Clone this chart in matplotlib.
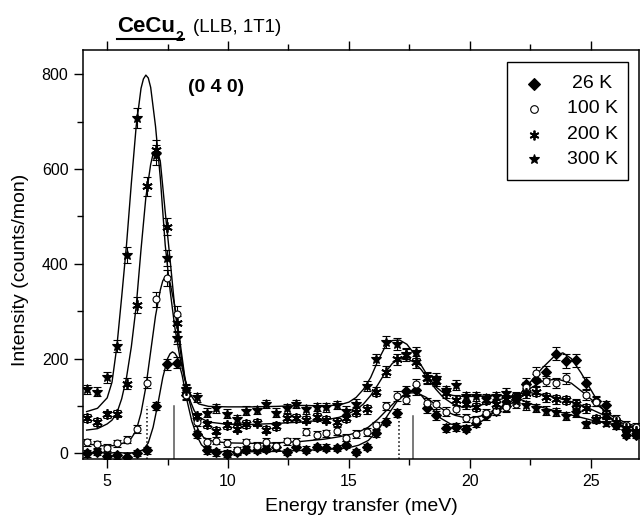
import numpy as np
import matplotlib
matplotlib.use("Agg")
import matplotlib.pyplot as plt
from matplotlib.patches import Rectangle
from matplotlib.lines import Line2D

plt.rcParams['font.family'] = ['Liberation Sans', 'DejaVu Sans']

# energy transfer of the measured points (meV)
energy = [4.15, 4.56, 4.98, 5.39, 5.80, 6.22, 6.63, 7.04, 7.46, 7.87,
          8.28, 8.70, 9.11, 9.52, 9.94, 10.35, 10.76, 11.18, 11.59, 12.00,
          12.42, 12.83, 13.24, 13.66, 14.07, 14.49, 14.90, 15.31, 15.73, 16.14,
          16.55, 16.97, 17.38, 17.79, 18.21, 18.62, 19.03, 19.45, 19.86, 20.27,
          20.69, 21.10, 21.51, 21.93, 22.34, 22.75, 23.17, 23.58, 23.99, 24.41,
          24.82, 25.23, 25.65, 26.06, 26.47, 26.89]

# intensities (counts/mon)
i_26K = [0, 3, -6, -4, -7, 1, 6, 100, 188, 191,
         123, 40, 6, 2, -1, 3, 7, 7, 10, 14,
         3, 13, 8, 13, 12, 11, 18, 3, 13, 42,
         67, 85, 132, 133, 95, 80, 54, 56, 52, 63,
         80, 90, 99, 118, 147, 155, 172, 210, 195, 196,
         148, 110, 101, 60, 39, 39]
i_100K = [23, 19, 12, 21, 29, 51, 149, 325, 369, 295,
          124, 66, 24, 27, 22, 6, 23, 15, 24, 15,
          25, 24, 46, 39, 42, 47, 33, 41, 45, 59,
          100, 121, 113, 146, 106, 103, 88, 93, 74, 71,
          85, 90, 97, 105, 139, 170, 153, 148, 158, 102,
          123, 109, 83, 73, 60, 55]
i_200K = [75, 66, 82, 84, 147, 313, 563, 640, 478, 274,
          134, 78, 61, 48, 59, 52, 62, 65, 50, 58,
          74, 74, 71, 77, 71, 66, 75, 88, 93, 130,
          172, 198, 208, 193, 158, 152, 127, 112, 103, 98,
          112, 105, 114, 118, 127, 130, 118, 114, 112, 105,
          95, 72, 81, 67, 53, 48]
i_300K = [135, 130, 160, 226, 418, 707, np.nan, 630, 412, 244,
          136, 118, 86, 95, 84, 72, 90, 91, 104, 86,
          95, 104, 93, 98, 97, 102, 90, 105, 142, 198,
          235, 230, 210, 213, 160, 158, 133, 144, 120, 120,
          117, 121, 127, 110, 101, 96, 90, 87, 79, 85,
          61, 73, 65, 60, 47, 45]

# error bars (counts/mon)
e_26K = [7, 7, 7, 7, 7, 7, 7, 9, 12, 12,
         10, 7, 7, 7, 7, 7, 7, 7, 7, 7,
         7, 7, 7, 7, 7, 7, 7, 7, 7, 7,
         8, 9, 11, 11, 10, 9, 8, 8, 8, 8,
         9, 9, 10, 11, 12, 12, 13, 14, 14, 14,
         12, 10, 10, 8, 7, 7]
e_100K = [8, 8, 8, 8, 8, 8, 11, 16, 17, 16,
          10, 8, 8, 8, 8, 8, 8, 8, 8, 8,
          8, 8, 8, 8, 8, 8, 8, 8, 8, 8,
          9, 10, 10, 11, 10, 9, 9, 9, 8, 8,
          9, 9, 9, 10, 11, 12, 11, 11, 12, 10,
          10, 10, 9, 8, 8, 8]
e_200K = [8, 8, 8, 8, 11, 16, 20, 21, 18, 15,
          11, 8, 8, 8, 8, 8, 8, 8, 8, 8,
          8, 8, 8, 8, 8, 8, 8, 9, 9, 10,
          12, 12, 13, 12, 11, 11, 10, 10, 9, 9,
          9, 9, 9, 10, 10, 10, 9, 9, 9, 9,
          9, 8, 8, 8, 8, 7]
e_300K = [10, 10, 11, 13, 17, 21, np.nan, 21, 17, 13,
          10, 10, 9, 9, 9, 8, 9, 9, 9, 9,
          9, 9, 9, 9, 9, 9, 9, 9, 10, 12,
          13, 13, 12, 12, 11, 11, 10, 10, 9, 9,
          9, 9, 10, 9, 9, 9, 9, 9, 8, 8,
          8, 8, 8, 8, 7, 7]

# fitted curves
fit_x_26K = [4.15, 5.0, 6.0, 6.3, 6.5, 6.7, 6.9, 7.1, 7.3, 7.5, 7.6, 7.7, 7.8, 7.9,
             8.1, 8.3, 8.5, 8.7, 8.9, 9.1, 9.5, 10.5, 12.0, 13.0, 14.0, 14.6,
             15.0, 15.4, 15.8, 16.2, 16.6, 17.0, 17.4, 17.7, 18.0, 18.4, 18.8,
             19.2, 19.6, 20.0, 20.5, 21.0, 21.5, 22.0, 22.5, 23.0, 23.5, 23.85,
             24.2, 24.6, 25.0, 25.4, 25.8, 26.2, 26.6, 27.0]
fit_y_26K = [2, 1, 1, 3, 8, 22, 55, 105, 160, 200, 210, 214, 211, 203,
             165, 112, 68, 38, 18, 9, 4, 3, 4, 6, 8, 10,
             12, 17, 27, 48, 80, 110, 128, 132, 122, 97, 74,
             62, 57, 57, 68, 86, 102, 120, 150, 180, 205, 212,
             200, 170, 135, 100, 75, 58, 49, 42]
fit_x_100K = [4.15, 4.6, 5.0, 5.4, 5.8, 6.0, 6.2, 6.4, 6.6, 6.8, 7.0, 7.2, 7.3,
              7.4, 7.5, 7.6, 7.8, 8.0, 8.2, 8.4, 8.6, 8.8, 9.0, 9.4, 10.0, 11.0,
              12.0, 13.0, 14.0, 14.6, 15.0, 15.4, 15.8, 16.2, 16.6, 17.0, 17.4,
              17.8, 18.2, 18.6, 19.0, 19.4, 19.9, 20.4, 21.0, 21.5, 22.0, 22.5,
              23.0, 23.6, 24.2, 24.8, 25.4, 25.9, 26.5, 27.0]
fit_y_100K = [20, 17, 15, 17, 24, 32, 48, 85, 140, 215, 290, 345, 364,
              372, 370, 360, 310, 240, 165, 110, 70, 46, 33, 25, 22, 21,
              22, 25, 30, 35, 39, 45, 55, 72, 93, 113, 127,
              128, 118, 102, 89, 80, 74, 78, 86, 98, 115, 137,
              152, 157, 148, 124, 97, 78, 63, 56]
fit_x_200K = [4.15, 4.6, 5.0, 5.2, 5.4, 5.6, 5.8, 6.0, 6.2, 6.4, 6.6, 6.8, 6.9,
              7.0, 7.1, 7.2, 7.4, 7.6, 7.8, 8.0, 8.2, 8.4, 8.6, 8.8, 9.2, 10.0,
              11.0, 12.0, 13.0, 14.0, 14.6, 15.0, 15.3, 15.6, 15.9, 16.2, 16.5,
              16.8, 17.1, 17.4, 17.7, 18.0, 18.3, 18.6, 18.9, 19.3, 19.7, 20.2,
              20.8, 21.4, 22.0, 22.5, 23.0, 23.6, 24.2, 24.8, 25.4, 26.0, 26.5,
              27.0]
fit_y_200K = [49, 52, 62, 70, 85, 115, 160, 225, 310, 430, 540, 610, 632,
              640, 635, 615, 510, 410, 305, 225, 160, 115, 90, 76, 66, 61,
              61, 63, 66, 70, 76, 84, 92, 104, 122, 145, 170,
              190, 199, 200, 192, 176, 155, 135, 118, 104, 97, 99,
              106, 116, 125, 128, 124, 117, 109, 98, 84, 70, 60,
              53]
fit_x_300K = [4.15, 4.6, 5.0, 5.2, 5.4, 5.6, 5.8, 6.0, 6.2, 6.4, 6.5, 6.6, 6.7,
              6.8, 7.0, 7.2, 7.4, 7.6, 7.8, 8.0, 8.2, 8.4, 8.6, 8.8, 9.2, 10.0,
              11.0, 12.0, 13.0, 14.0, 14.6, 15.0, 15.3, 15.6, 15.9, 16.2, 16.5,
              16.8, 17.1, 17.4, 17.7, 18.0, 18.3, 18.6, 18.9, 19.3, 19.7, 20.2,
              21.0, 21.6, 22.0, 22.6, 23.2, 23.8, 24.5, 25.2, 26.0, 27.0]
fit_y_300K = [88, 95, 117, 150, 225, 330, 440, 570, 690, 770, 790, 798, 792,
              772, 690, 580, 440, 345, 265, 205, 158, 128, 112, 104, 99, 98,
              98, 99, 101, 100, 102, 108, 118, 135, 160, 195, 225,
              238, 239, 230, 210, 185, 160, 140, 128, 122, 120, 120,
              122, 121, 116, 103, 94, 86, 77, 68, 60, 52]

# calculated transition energies (dotted / solid markers)
trans_x = [6.63, 7.75, 17.07, 17.64]
trans_top = [100, 100, 78, 78]
trans_style = [':', '-', ':', '-']
trans_color = ['black', '#555555', 'black', '#555555']

labels = ['26 K', '100 K', '200 K', '300 K']
markers = ['D', 'o', (6, 2, 0), '*']
msizes = [5, 5, 7.5, 7.5]
mews = [0.8, 0.8, 1.3, 0.8]
mfcs = ['black', 'white', 'black', 'black']

series = [i_26K, i_100K, i_200K, i_300K]
errors = [e_26K, e_100K, e_200K, e_300K]
fits = [(fit_x_26K, fit_y_26K), (fit_x_100K, fit_y_100K),
        (fit_x_200K, fit_y_200K), (fit_x_300K, fit_y_300K)]

fig = plt.figure(figsize=(6.4, 5.22), dpi=100)
ax = fig.add_axes([83 / 640, 63 / 522, 556 / 640, 409 / 522])

ymin = -12
for fx, fy in fits:
    ax.plot(fx, fy, color='black', lw=1.0, zorder=2)

for x, top, ls, c in zip(trans_x, trans_top, trans_style, trans_color):
    ax.plot([x, x], [ymin, top], ls=ls, color=c, lw=1.1, zorder=1)

for y, e, m, ms, mw, fc in zip(series, errors, markers, msizes, mews, mfcs):
    ax.errorbar(energy, y, yerr=e, fmt='none', ecolor='black', elinewidth=0.8,
                capsize=3, capthick=0.8, zorder=3)
    ax.plot(energy, y, ls='none', marker=m, ms=ms, mfc=fc, mec='black',
            mew=mw, zorder=4)

ax.set_xlim(4, 27)
ax.set_ylim(ymin, 851)
ax.set_xticks([5, 10, 15, 20, 25])
ax.set_xticks([7.5, 12.5, 17.5, 22.5], minor=True)
ax.set_yticks([0, 200, 400, 600, 800])
ax.set_yticks([100, 300, 500, 700], minor=True)
ax.tick_params(which='both', direction='out', top=True, right=False,
               labelsize=11.5, width=1.0, pad=4)
ax.tick_params(which='major', length=6.5)
ax.tick_params(which='minor', length=4)
for s in ax.spines.values():
    s.set_linewidth(1.1)

ax.set_xlabel('Energy transfer (meV)', fontsize=14)
ax.set_ylabel('Intensity (counts/mon)', fontsize=14)
ax.xaxis.set_label_coords(0.5, -0.095)
ax.yaxis.set_label_coords(-0.097, 0.462)

ax.text(0.240, 0.9095, '(0 4 0)', transform=ax.transAxes, fontsize=14,
        fontweight='bold', ha='center', va='center')

# hand-made legend with centred labels
ax.add_patch(Rectangle((0.7626, 0.682), 0.2174, 0.2887, transform=ax.transAxes,
                       fill=False, lw=1.0, ec='black', zorder=5))
row_y = [0.9169, 0.856, 0.7929, 0.7328]
leg_ms = [6, 5.5, 7, 7.5]
for ry, lab, m, ms, mw, fc in zip(row_y, labels, markers, leg_ms, mews, mfcs):
    ax.plot([0.8103], [ry], transform=ax.transAxes, marker=m, ms=ms, mfc=fc,
            mec='black', mew=mw, ls='none', zorder=6)
    ax.text(0.9155, ry, lab, transform=ax.transAxes, fontsize=14,
            ha='center', va='center', zorder=6)

# title: underlined bold CeCu2 followed by instrument
def fpx(x, y):
    return x / 640, 1 - y / 522

fig.text(*fpx(117, 32), 'CeCu', fontsize=16, fontweight='bold', va='baseline')
fig.text(*fpx(176, 41), '2', fontsize=10, fontweight='bold', va='baseline')
fig.text(*fpx(193, 32), '(LLB, 1T1)', fontsize=13.5, va='baseline')
x0, y0 = fpx(117, 38.5)
x1, _ = fpx(184, 38.5)
fig.add_artist(Line2D([x0, x1], [y0, y0], transform=fig.transFigure,
                      color='black', lw=1.5))

fig.savefig('out.png', dpi=100)
